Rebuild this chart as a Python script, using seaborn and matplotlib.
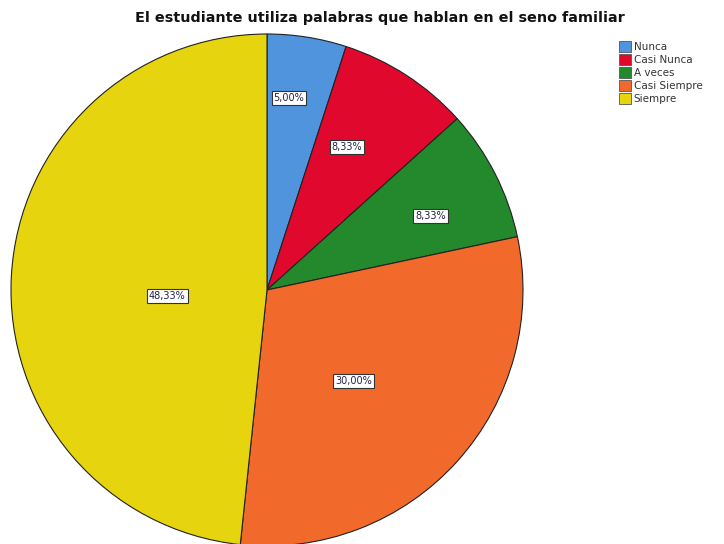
import matplotlib
matplotlib.use("Agg")
import matplotlib.pyplot as plt
import numpy as np
import seaborn as sns

# --- Data ---
CATEGORIES = ["Nunca", "Casi Nunca", "A veces", "Casi Siempre", "Siempre"]
PERCENTAGES = [5.00, 8.33, 8.33, 30.00, 48.33]
PCT_LABELS = ["5,00%", "8,33%", "8,33%", "30,00%", "48,33%"]

# --- Style ---
COLORS = ["#4f94dc", "#e0082d", "#24892c", "#f26a2b", "#e6d40e"]
LABEL_RADIUS = [0.755, 0.64, 0.70, 0.49, 0.39]
LABEL_SHIFT = [2.5, 3.8, -2.7, -4.6, 6.4]  # degrees, SPSS places labels a bit off-centre

sns.set_theme(style="white")
plt.rcParams["font.family"] = ["DejaVu Sans"]

W, H = 724, 544
fig = plt.figure(figsize=(W / 100, H / 100), dpi=100)
fig.patch.set_facecolor("white")

# pie centre at (267, 290) px, radius 256 px
cx, cy, r = 267, 290, 256
ax = fig.add_axes([(cx - r) / W, (H - cy - r) / H, 2 * r / W, 2 * r / H])

wedges, _ = ax.pie(
    PERCENTAGES, colors=COLORS, startangle=90, counterclock=False, radius=1,
    wedgeprops=dict(edgecolor="#222222", linewidth=0.8),
)
ax.set_xlim(-1, 1)
ax.set_ylim(-1, 1)
ax.axis("off")

for w, lab, rad, shift in zip(wedges, PCT_LABELS, LABEL_RADIUS, LABEL_SHIFT):
    mid = np.deg2rad((w.theta1 + w.theta2) / 2 + shift)
    ax.text(rad * np.cos(mid), rad * np.sin(mid), lab, ha="center", va="center",
            fontsize=7, color="#222244",
            bbox=dict(boxstyle="square,pad=0.2", facecolor="white", edgecolor="#333333", linewidth=0.8))

fig.text(380 / W, 1 - 18 / H, "El estudiante utiliza palabras que hablan en el seno familiar",
         ha="center", va="center", fontsize=10.4, fontweight="bold", color="#111111")

handles = [plt.Rectangle((0, 0), 1, 1, facecolor=c, edgecolor="#555555", linewidth=0.6) for c in COLORS]
fig.legend(handles, CATEGORIES, loc="upper left", bbox_to_anchor=(614 / W, 1 - 36 / H),
           frameon=False, fontsize=7.5, handlelength=1.1, handleheight=1.15,
           handletextpad=0.3, labelspacing=0.22, borderpad=0, labelcolor="#333333")

fig.savefig("out.png", dpi=100, facecolor="white")
